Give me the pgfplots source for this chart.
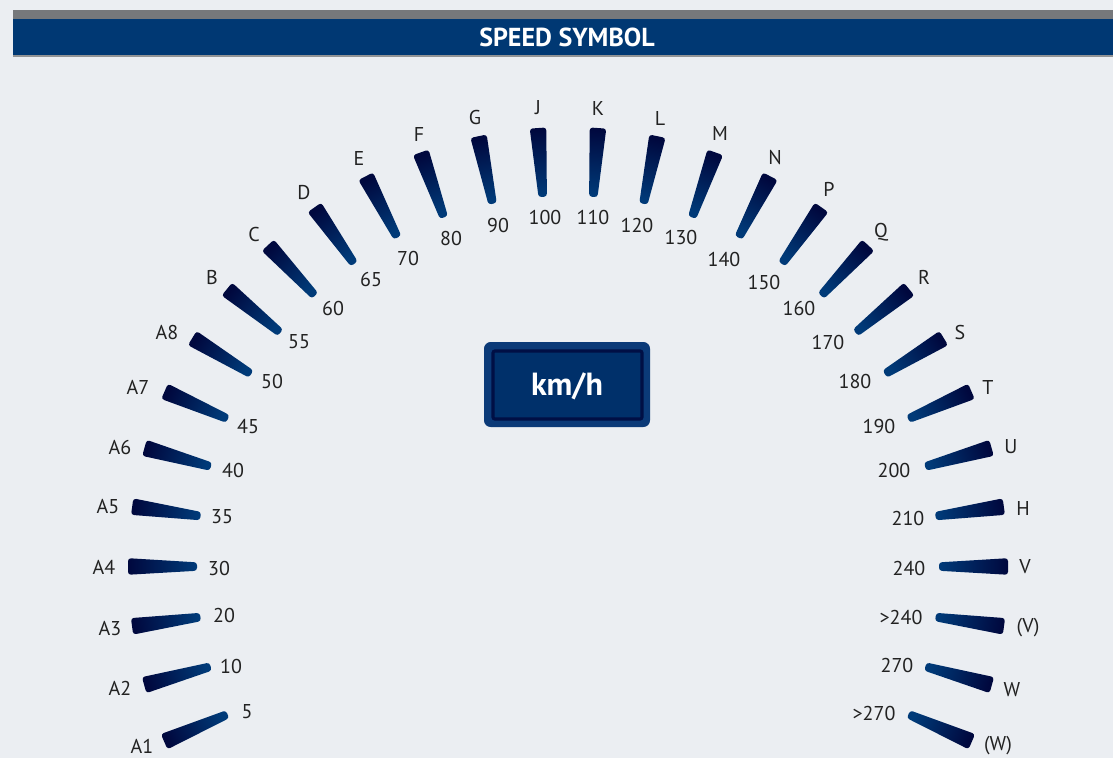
\documentclass[border=0pt]{standalone}
\usepackage{fontspec}
\setmainfont{PT Sans}
\usepackage{pgfplots}
\usepackage{pgfplotstable}
\pgfplotsset{compat=1.18}
\definecolor{bg}{HTML}{EBEEF2}
\definecolor{barblue}{HTML}{003873}
\definecolor{bargrey}{HTML}{76787B}
\definecolor{wout}{HTML}{00083E}
\definecolor{win}{HTML}{003A78}
\definecolor{txt}{HTML}{222222}
\definecolor{boxouter}{HTML}{0B3A78}
\definecolor{boxline}{HTML}{000F45}
\definecolor{boxinner}{HTML}{00306A}
\tikzset{lbl/.style={text=txt, inner sep=0pt, font=\fontsize{15}{15}\selectfont}}

% angle of the mark (deg), speed symbol + its position, speed + its position (pixel coords)
\pgfplotstableread{
ang L lx ly S nx ny
203.39 A1 142 746 5 247 712
195.57 A2 120 688 10 231 666
187.75 A3 110 628 20 224 615
179.93 A4 104 567 30 219 568
172.11 A5 108 506 35 222 517
164.29 A6 120 447 40 233 470
156.47 A7 138 387 45 248 426
148.65 A8 167 332 50 272 381
140.83 B 212 277 55 299 342
133.01 C 254 234 60 333 308
125.19 D 304 193 65 371 279
117.37 E 359 158 70 408 258
109.55 F 419 134 80 451 238
101.73 G 475 117 90 498 225
93.91 J 538 108 100 545 217
86.09 K 598 108 110 593 217
78.27 L 660 118 120 637 225
70.45 M 720 133 130 681 237
62.63 N 775 157 140 724 259
54.81 P 829 189 150 764 282
46.99 Q 881 232 160 799 308
39.17 R 924 277 170 828 342
31.35 S 960 332 180 855 381
23.53 T 988 387 190 879 426
15.71 U 1011 447 200 894 470
7.89 H 1023 508 210 908 518
0.07 V 1025 567 240 909 568
-7.75 (V) 1028 628 >240 901 617
-15.57 W 1012 690 270 897 665
-23.39 (W) 998 746 >270 874 713
}\ticks

\begin{document}
\begin{tikzpicture}
\begin{axis}[scale only axis, width=834.75pt, height=568.5pt,
  xmin=0, xmax=1113, ymin=0, ymax=758, y dir=reverse,
  hide axis, clip=false]
\coordinate (P1) at (axis cs:0,0);
\coordinate (P2) at (axis cs:1113,758);
\fill[bg] (axis cs:0,0) rectangle (axis cs:1113,758);
% title bar
\fill[bargrey] (axis cs:13,10) rectangle (axis cs:1113,19);
\fill[barblue] (axis cs:13,19) rectangle (axis cs:1113,55);
\fill[bargrey!80] (axis cs:13,55) rectangle (axis cs:1113,57);
\node[text=white, font=\bfseries\fontsize{19.5}{19.5}\selectfont] at (axis cs:567,37) {SPEED SYMBOL};
% km/h box
\fill[boxouter, rounded corners=5pt] (axis cs:484,342) rectangle (axis cs:650,427);
\draw[boxline, line width=2.4pt, fill=boxinner, rounded corners=1.5pt] (axis cs:493,351) rectangle (axis cs:642,419);
\node[text=white, font=\bfseries\fontsize{24}{24}\selectfont] at (axis cs:567,386) {km/h};
% marks
\pgfplotsinvokeforeach{0,...,29}{
  \pgfplotstablegetelem{#1}{ang}\of\ticks \let\ang\pgfplotsretval
  \pgfmathsetmacro\ca{cos(\ang)}
  \pgfmathsetmacro\sa{sin(\ang)}
  \pgfmathsetmacro\xo{568+440*\ca}
  \pgfmathsetmacro\yo{567-440*\sa}
  \pgfmathsetmacro\xin{568+371*\ca}
  \pgfmathsetmacro\yin{567-371*\sa}
  \pgfmathsetmacro\xA{\xo+8.3*\sa}
  \pgfmathsetmacro\yA{\yo+8.3*\ca}
  \pgfmathsetmacro\xB{\xo-8.3*\sa}
  \pgfmathsetmacro\yB{\yo-8.3*\ca}
  \pgfmathsetmacro\xC{\xin-4.2*\sa}
  \pgfmathsetmacro\yC{\yin-4.2*\ca}
  \pgfmathsetmacro\xD{\xin+4.2*\sa}
  \pgfmathsetmacro\yD{\yin+4.2*\ca}
  \pgfmathsetmacro\sh{\ang-90}
  \edef\cmd{\noexpand\addplot[draw=none, top color=wout, bottom color=win,
     shading angle=\sh, rounded corners=2.2pt]
     coordinates {(\xA,\yA) (\xB,\yB) (\xC,\yC) (\xD,\yD)} -- cycle;}
  \cmd
  \pgfplotstablegetelem{#1}{L}\of\ticks \let\lab\pgfplotsretval
  \pgfplotstablegetelem{#1}{lx}\of\ticks \let\lx\pgfplotsretval
  \pgfplotstablegetelem{#1}{ly}\of\ticks \let\ly\pgfplotsretval
  \pgfplotstablegetelem{#1}{S}\of\ticks \let\spd\pgfplotsretval
  \pgfplotstablegetelem{#1}{nx}\of\ticks \let\nx\pgfplotsretval
  \pgfplotstablegetelem{#1}{ny}\of\ticks \let\ny\pgfplotsretval
  \edef\cmd{\noexpand\node[lbl] at (axis cs:\lx,\ly) {\lab};
    \noexpand\node[lbl] at (axis cs:\nx,\ny) {\spd};}
  \cmd
}
\end{axis}
\pgfresetboundingbox
\path (P1) rectangle (P2);
\end{tikzpicture}
\end{document}
